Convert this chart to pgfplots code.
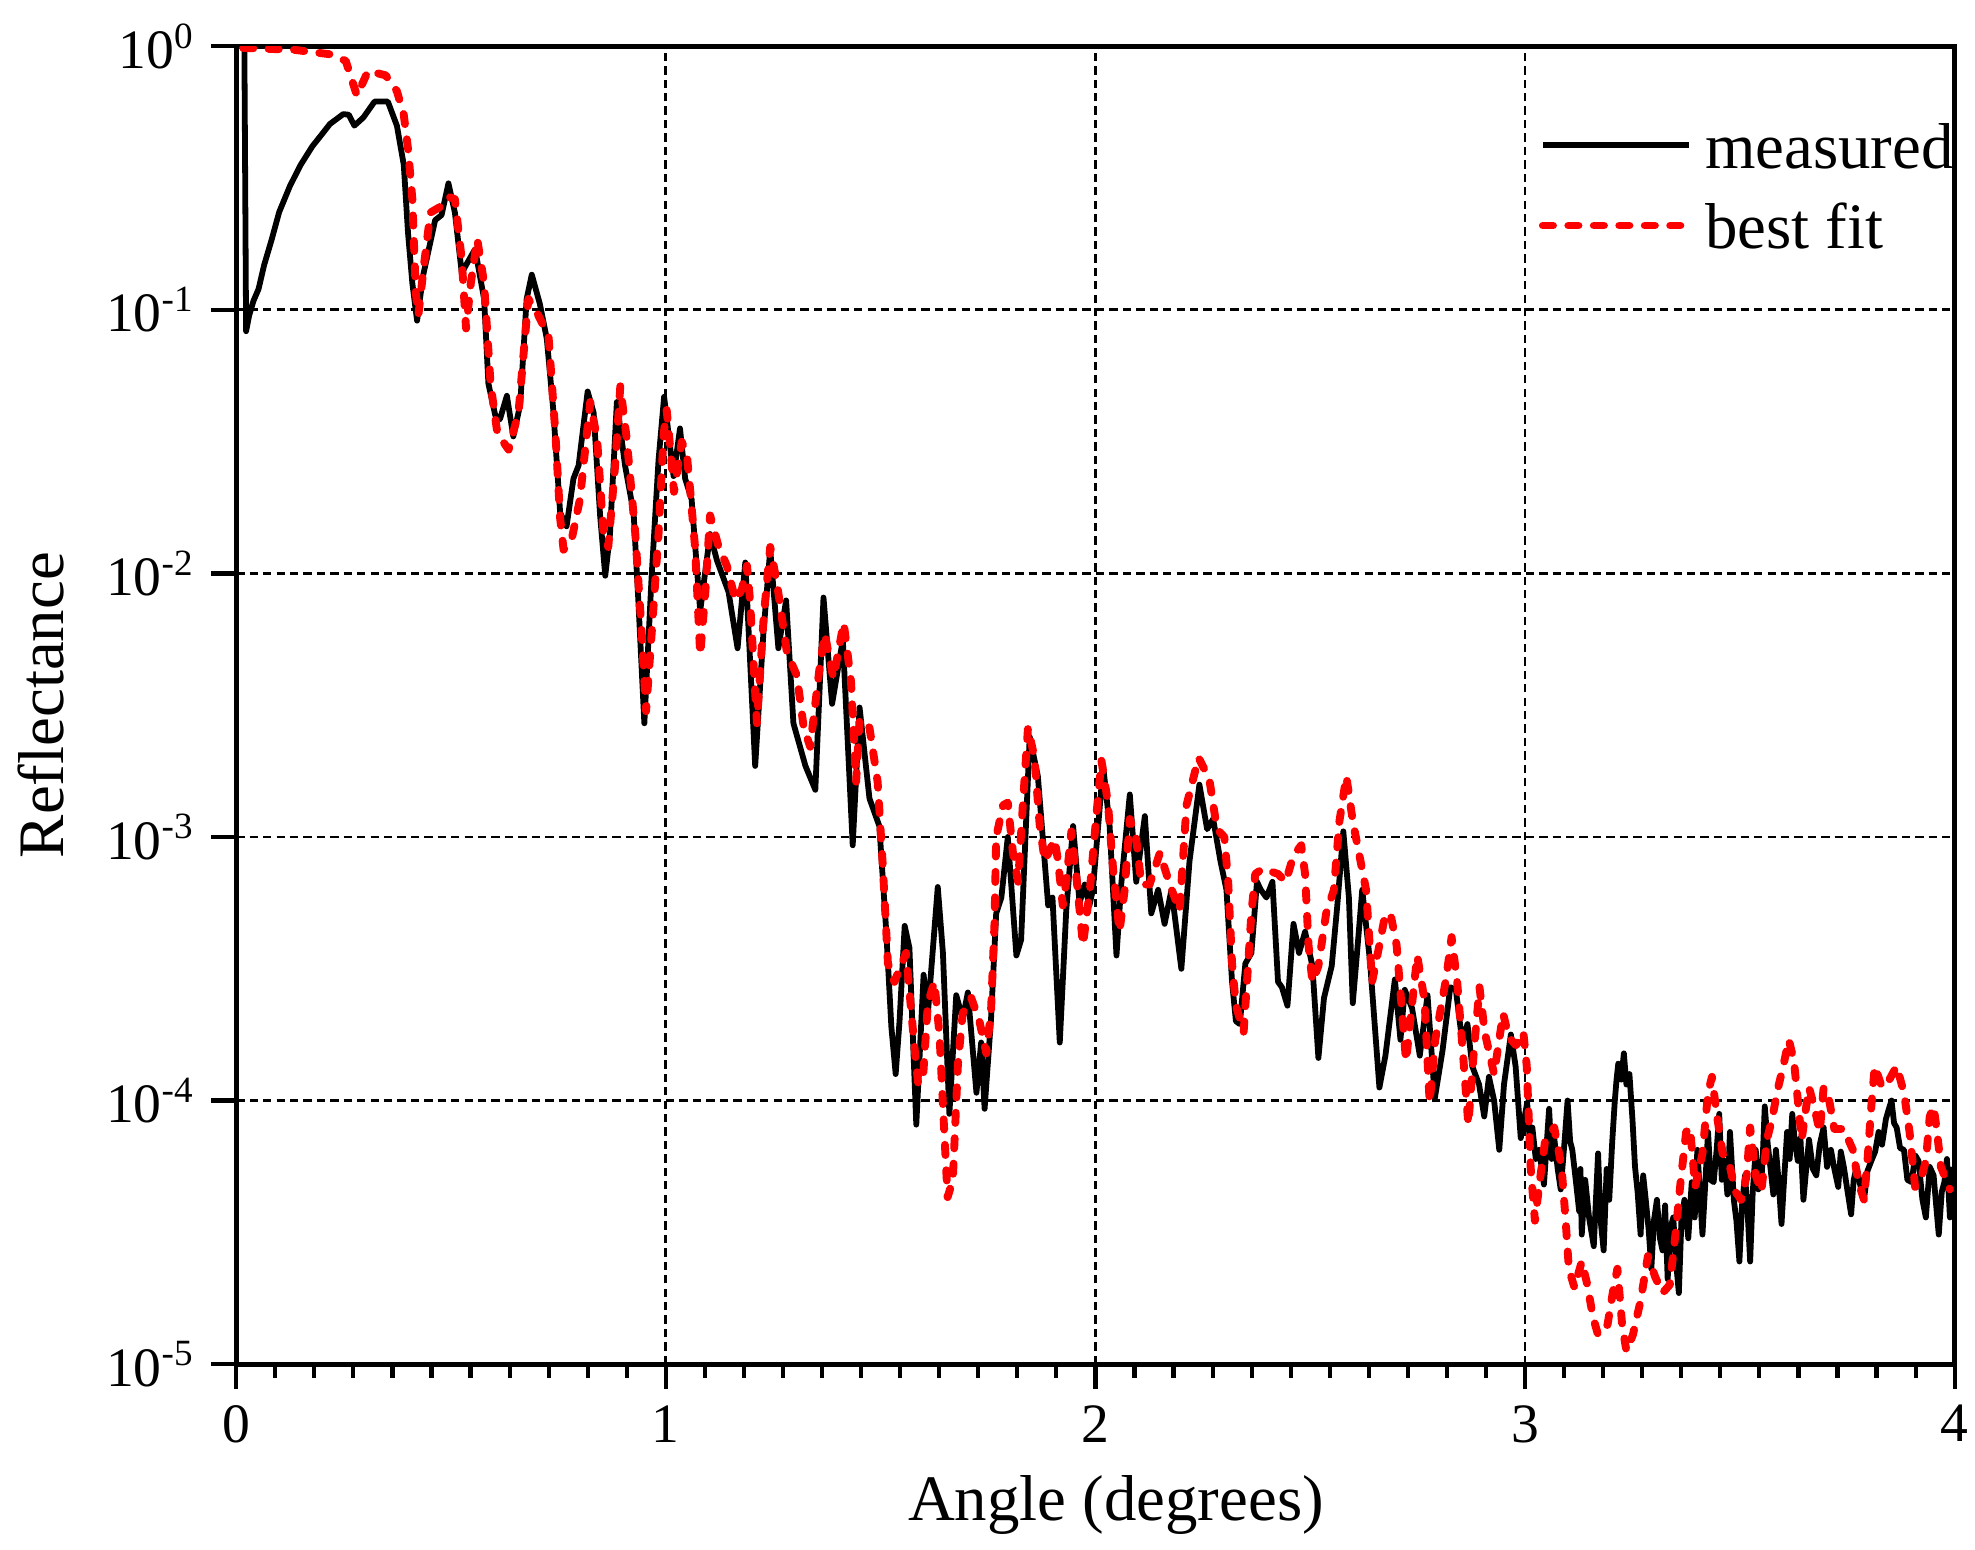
\documentclass[border=0pt]{standalone}
\usepackage{fontspec}
\setmainfont{Liberation Serif}
\usepackage{pgfplots}
\pgfplotsset{compat=1.18}
\begin{document}
\begin{tikzpicture}
\begin{axis}[
  scale only axis, width=371pt, height=284.5pt,
  xmin=0, xmax=4, ymin=1e-5, ymax=1,
  ymode=log, log basis y=10,
  xtick={0,1,2,3,4}, minor x tick num=10,
  ytick={1e-5,1e-4,1e-3,1e-2,1e-1,1},
  tick pos=left, tick align=outside,
  major tick length=5.4pt, minor tick length=3pt,
  every tick/.style={black, line width=0.9pt},
  axis line style={line width=1.1pt},
  grid=major,
  major grid style={black, line width=0.6pt, dash pattern=on 1.8pt off 1.1pt},
  /pgf/number format/assume math mode=true,
  xticklabel style={font=\fontsize{12}{14}\selectfont},
  yticklabel={10\textsuperscript{\pgfmathparse{int(round(\tick))}\pgfmathresult}},
  yticklabel style={font=\fontsize{12}{14}\selectfont},
  xlabel={Angle (degrees)}, ylabel={Reflectance},
  label style={font=\fontsize{14}{16}\selectfont},
  xlabel style={at={(axis description cs:0.512,-0.107)}, anchor=center},
  ylabel style={at={(axis description cs:-0.1137,0.5)}, anchor=center},
  legend style={draw=none, fill=none, at={(axis description cs:1.004,0.9487)}, anchor=north east,
    font=\fontsize{14}{16}\selectfont, inner sep=0pt, row sep=4.4pt, column sep=1.2pt,
    nodes={inner sep=1.5pt, text height=10pt, text depth=0pt}},
  legend cell align=left,
  legend image code/.code={\draw[#1] (0pt,0pt) -- (31.5pt,0pt);},
]
\addplot[black, line width=1.25pt, line join=round] table {
0.010 1.05
0.019 0.99
0.023 0.083
0.030 0.095
0.040 0.108
0.052 0.12
0.065 0.148
0.083 0.186
0.100 0.235
0.125 0.295
0.150 0.355
0.177 0.417
0.200 0.465
0.218 0.507
0.249 0.553
0.262 0.55
0.275 0.50
0.296 0.537
0.322 0.617
0.353 0.617
0.374 0.50
0.390 0.355
0.400 0.195
0.410 0.126
0.421 0.091
0.435 0.135
0.447 0.166
0.463 0.219
0.478 0.229
0.494 0.302
0.509 0.234
0.525 0.138
0.535 0.148
0.556 0.17
0.577 0.11
0.587 0.0525
0.603 0.0398
0.614 0.0385
0.630 0.0472
0.645 0.0331
0.661 0.0437
0.676 0.11
0.688 0.136
0.707 0.105
0.723 0.0776
0.738 0.0417
0.754 0.017
0.769 0.0151
0.785 0.0229
0.797 0.0257
0.818 0.049
0.832 0.0407
0.847 0.0166
0.859 0.0098
0.870 0.0141
0.886 0.0447
0.905 0.0257
0.925 0.017
0.936 0.0079
0.950 0.0027
0.967 0.0098
0.983 0.0269
0.996 0.0468
1.010 0.0302
1.018 0.0234
1.033 0.0355
1.045 0.0229
1.060 0.0191
1.080 0.0072
1.103 0.0141
1.119 0.0112
1.146 0.0085
1.167 0.0052
1.185 0.011
1.208 0.00186
1.227 0.0059
1.243 0.0123
1.262 0.0052
1.280 0.0079
1.297 0.0027
1.325 0.00186
1.348 0.00151
1.367 0.0081
1.387 0.0032
1.412 0.0056
1.435 0.00093
1.451 0.0031
1.474 0.0014
1.497 0.0011
1.513 0.00044
1.525 0.00019
1.535 0.000126
1.544 0.0002
1.556 0.00046
1.567 0.00038
1.583 0.000081
1.600 0.0003
1.610 0.000214
1.618 0.000316
1.633 0.000646
1.645 0.000363
1.660 0.000089
1.676 0.000251
1.691 0.000204
1.703 0.000257
1.723 0.000107
1.734 0.000166
1.742 0.000093
1.757 0.000204
1.769 0.000513
1.781 0.000589
1.796 0.001
1.816 0.000355
1.827 0.000407
1.847 0.0024
1.866 0.0017
1.890 0.00055
1.900 0.000589
1.917 0.000166
1.932 0.000525
1.948 0.0011
1.963 0.000562
1.975 0.00066
1.986 0.00055
1.994 0.00063
2.018 0.00186
2.033 0.0011
2.049 0.000355
2.060 0.00066
2.080 0.00145
2.095 0.000676
2.115 0.0012
2.130 0.000513
2.146 0.00063
2.161 0.000468
2.177 0.00063
2.200 0.000316
2.219 0.00081
2.242 0.00158
2.260 0.00107
2.274 0.00117
2.291 0.00081
2.305 0.00063
2.318 0.000282
2.327 0.0002
2.336 0.000195
2.349 0.000331
2.363 0.000363
2.376 0.000676
2.385 0.00063
2.398 0.000589
2.412 0.000676
2.425 0.000282
2.434 0.000269
2.447 0.000229
2.461 0.000468
2.474 0.000363
2.488 0.000437
2.505 0.000324
2.519 0.000145
2.532 0.000245
2.550 0.000324
2.563 0.00055
2.577 0.00105
2.590 0.000589
2.599 0.000234
2.612 0.000417
2.621 0.00063
2.639 0.000339
2.661 0.000112
2.675 0.000148
2.697 0.000288
2.710 0.00017
2.720 0.000263
2.737 0.000224
2.755 0.000148
2.773 0.000251
2.790 0.000102
2.808 0.000155
2.826 0.000269
2.839 0.000263
2.854 0.000166
2.866 0.000195
2.877 0.000135
2.893 0.000115
2.905 0.000087
2.916 0.000123
2.928 0.0001
2.940 0.000065
2.951 0.000115
2.967 0.000178
2.978 0.000135
2.990 0.000072
3.005 0.000098
3.011 0.00007
3.017 0.000079
3.025 0.00006
3.033 0.000065
3.044 0.000048
3.056 0.000093
3.062 0.00006
3.068 0.000072
3.076 0.000055
3.083 0.000046
3.092 0.00007
3.099 0.0001
3.105 0.00007
3.110 0.000065
3.118 0.00005
3.126 0.000038
3.129 0.000055
3.132 0.000031
3.140 0.00005
3.149 0.000036
3.160 0.000028
3.170 0.000063
3.176 0.000035
3.183 0.000027
3.190 0.000055
3.196 0.000042
3.203 0.00007
3.209 0.0001
3.213 0.00012
3.217 0.000138
3.224 0.00012
3.230 0.000151
3.236 0.000115
3.243 0.000126
3.250 0.000085
3.256 0.000056
3.262 0.000045
3.269 0.000031
3.275 0.000052
3.281 0.000042
3.288 0.000032
3.294 0.000023
3.300 0.000035
3.307 0.000042
3.314 0.00003
3.320 0.000027
3.326 0.00004
3.332 0.000021
3.339 0.000033
3.345 0.000036
3.351 0.000025
3.358 0.0000186
3.364 0.000035
3.371 0.000042
3.380 0.00003
3.388 0.000049
3.395 0.000036
3.401 0.000065
3.407 0.000045
3.413 0.000031
3.420 0.00005
3.426 0.000076
3.432 0.00005
3.439 0.000049
3.446 0.000065
3.452 0.000089
3.458 0.00005
3.465 0.000059
3.471 0.000044
3.477 0.000076
3.482 0.000055
3.486 0.000042
3.492 0.000035
3.499 0.0000245
3.505 0.00004
3.512 0.000052
3.518 0.000038
3.524 0.0000245
3.530 0.000045
3.537 0.000065
3.543 0.000046
3.550 0.000049
3.554 0.000065
3.558 0.000095
3.565 0.000068
3.571 0.000056
3.578 0.000044
3.584 0.000065
3.590 0.00005
3.597 0.000034
3.603 0.00005
3.610 0.000076
3.616 0.00006
3.622 0.000089
3.628 0.00007
3.635 0.000059
3.641 0.000072
3.648 0.000042
3.654 0.000054
3.661 0.000071
3.670 0.000055
3.678 0.000052
3.686 0.000068
3.695 0.000079
3.703 0.000056
3.712 0.000065
3.720 0.000055
3.729 0.000047
3.735 0.000064
3.742 0.000056
3.750 0.000046
3.759 0.000037
3.765 0.00005
3.772 0.000056
3.780 0.000048
3.789 0.000042
3.797 0.000054
3.806 0.000059
3.815 0.000064
3.823 0.000076
3.831 0.000068
3.840 0.000085
3.846 0.000092
3.853 0.0001
3.859 0.000082
3.865 0.000079
3.873 0.000066
3.882 0.000065
3.890 0.00005
3.900 0.000049
3.908 0.000062
3.916 0.000059
3.925 0.000042
3.933 0.000036
3.942 0.000056
3.951 0.000052
3.957 0.00004
3.963 0.000031
3.970 0.000045
3.976 0.000049
3.982 0.00006
3.989 0.000036
3.993 0.000044
3.997 0.000056
};
\addlegendentry{measured}
\addplot[red, line width=1.7pt, dash pattern=on 2.2pt off 3.3pt, line cap=round, line join=round] table {
0.016 0.986
0.135 0.97
0.218 0.933
0.255 0.88
0.281 0.65
0.307 0.807
0.348 0.776
0.374 0.676
0.390 0.55
0.400 0.407
0.410 0.263
0.418 0.116
0.424 0.0955
0.437 0.148
0.452 0.234
0.473 0.245
0.494 0.269
0.509 0.263
0.525 0.155
0.535 0.085
0.546 0.126
0.561 0.186
0.577 0.126
0.592 0.0525
0.608 0.0339
0.634 0.0295
0.657 0.0407
0.680 0.11
0.700 0.0977
0.727 0.0794
0.743 0.0339
0.754 0.0162
0.762 0.0123
0.781 0.0135
0.800 0.0191
0.824 0.0447
0.840 0.0324
0.855 0.0141
0.866 0.0126
0.882 0.0257
0.894 0.0513
0.909 0.0324
0.929 0.0141
0.944 0.0059
0.954 0.003
0.967 0.0059
0.983 0.0141
0.995 0.0339
1.002 0.0417
1.014 0.0257
1.019 0.0204
1.037 0.0316
1.049 0.0282
1.057 0.0204
1.068 0.0126
1.080 0.0049
1.092 0.0085
1.103 0.0166
1.123 0.0126
1.142 0.0107
1.162 0.0079
1.177 0.0087
1.189 0.0107
1.196 0.0079
1.212 0.0027
1.228 0.0069
1.243 0.0126
1.259 0.0091
1.282 0.005
1.305 0.0041
1.321 0.0026
1.336 0.0022
1.358 0.0044
1.370 0.0059
1.390 0.004
1.414 0.0065
1.431 0.0039
1.443 0.00162
1.451 0.0028
1.474 0.0026
1.493 0.00162
1.505 0.00078
1.517 0.000331
1.532 0.000282
1.559 0.000363
1.579 0.000158
1.587 0.000117
1.598 0.000117
1.610 0.000234
1.625 0.000282
1.637 0.000178
1.649 0.000071
1.656 0.000043
1.668 0.00005
1.680 0.000138
1.691 0.000214
1.711 0.000245
1.730 0.0002
1.746 0.000151
1.757 0.000219
1.765 0.000468
1.769 0.001
1.785 0.00132
1.796 0.00135
1.808 0.00087
1.820 0.000676
1.831 0.00132
1.843 0.0026
1.858 0.002
1.870 0.00112
1.882 0.00081
1.905 0.00098
1.913 0.00081
1.924 0.00055
1.932 0.000676
1.944 0.00105
1.955 0.000724
1.971 0.000389
1.987 0.00063
2.002 0.0012
2.014 0.00195
2.029 0.00135
2.041 0.000759
2.056 0.000437
2.068 0.00063
2.080 0.00117
2.095 0.00098
2.107 0.00066
2.126 0.00066
2.150 0.00087
2.173 0.00066
2.196 0.000525
2.212 0.00132
2.240 0.002
2.265 0.00166
2.283 0.00107
2.300 0.001
2.309 0.000676
2.318 0.000331
2.327 0.000229
2.345 0.000182
2.354 0.000302
2.363 0.000513
2.372 0.000724
2.390 0.000759
2.407 0.000741
2.425 0.000724
2.443 0.000676
2.461 0.000851
2.479 0.00093
2.488 0.000724
2.496 0.000389
2.505 0.000282
2.519 0.000324
2.537 0.000513
2.555 0.00063
2.568 0.00115
2.584 0.0017
2.599 0.00115
2.617 0.00081
2.630 0.00063
2.644 0.000282
2.661 0.000389
2.675 0.000513
2.688 0.0005
2.701 0.000389
2.723 0.000141
2.749 0.000355
2.766 0.00024
2.778 0.000098
2.791 0.00017
2.817 0.000295
2.829 0.000417
2.842 0.000282
2.855 0.000155
2.868 0.000081
2.881 0.000155
2.894 0.000269
2.906 0.000182
2.928 0.000126
2.949 0.000214
2.962 0.000174
2.979 0.000162
2.996 0.000182
3.004 0.000135
3.013 0.000056
3.023 0.000035
3.034 0.000049
3.047 0.000071
3.068 0.000079
3.085 0.000056
3.094 0.000036
3.102 0.000023
3.115 0.0000195
3.132 0.0000245
3.145 0.00002
3.158 0.0000151
3.170 0.0000129
3.192 0.0000141
3.205 0.000019
3.215 0.000023
3.226 0.0000141
3.236 0.0000112
3.251 0.0000129
3.269 0.0000174
3.286 0.0000257
3.303 0.0000214
3.320 0.0000186
3.337 0.00002
3.350 0.000031
3.362 0.000049
3.375 0.000076
3.384 0.000079
3.396 0.000047
3.413 0.000063
3.426 0.000107
3.435 0.000123
3.447 0.000087
3.460 0.000063
3.477 0.000056
3.490 0.000045
3.503 0.000042
3.516 0.000052
3.524 0.000079
3.537 0.000052
3.550 0.000045
3.563 0.000071
3.575 0.000085
3.588 0.00011
3.601 0.000135
3.614 0.00017
3.626 0.000141
3.635 0.0001
3.644 0.000071
3.652 0.000089
3.661 0.000112
3.673 0.000095
3.686 0.000076
3.695 0.000112
3.708 0.0001
3.720 0.000078
3.742 0.000078
3.763 0.000065
3.776 0.000049
3.789 0.000042
3.797 0.000059
3.806 0.000095
3.814 0.000135
3.831 0.000112
3.848 0.00012
3.865 0.000135
3.882 0.000107
3.895 0.000076
3.908 0.000047
3.921 0.00005
3.933 0.000059
3.942 0.000087
3.951 0.000095
3.959 0.000076
3.968 0.000056
3.976 0.000052
3.989 0.000046
};
\addlegendentry{best fit}
\end{axis}
\pgfresetboundingbox
\path[use as bounding box] ([xshift=-51pt,yshift=-40pt]current axis.south west) rectangle ([xshift=4.4pt,yshift=10pt]current axis.north east);
\end{tikzpicture}
\end{document}
